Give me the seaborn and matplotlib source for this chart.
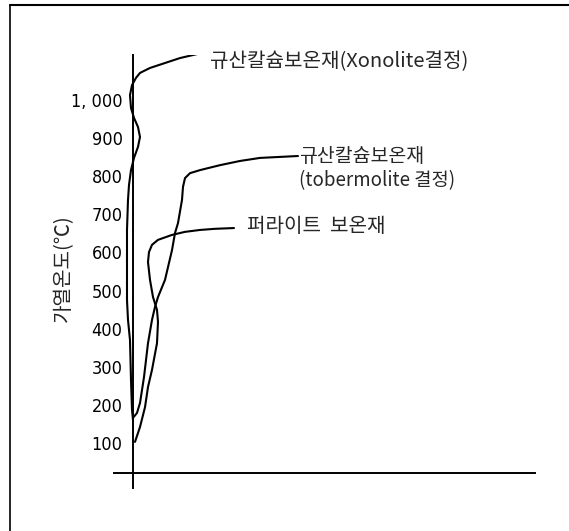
import matplotlib
matplotlib.use("Agg")
import matplotlib.pyplot as plt
import seaborn as sns
import pandas as pd
from matplotlib.lines import Line2D

sns.set_style("white")
plt.rcParams['font.family'] = ['Noto Sans CJK KR', 'DejaVu Sans']

# ---- data (x: arbitrary units, y: heating temperature in C) ----
xonolite_x = [65, 47, 32, 17, 7, 3, -1, -3, -2, 1, 5, 7, 5, 1, -2, -4, -5, -6, -6, -6, -5, -3, -2, -1, 0]
xonolite_y = [1121, 1110, 1097, 1084, 1071, 1058, 1039, 1013, 979, 953, 929, 903, 877, 848, 816, 777, 738, 659, 554, 475, 423, 370, 265, 187, 160]

tober_x = [165, 127, 107, 87, 67, 57, 52, 50, 49, 45, 42, 39, 32, 25, 22, 19, 15, 11, 7, 4, 0]
tober_y = [853, 848, 840, 829, 816, 808, 795, 772, 738, 677, 651, 606, 528, 483, 457, 423, 362, 273, 205, 179, 166]

perlite_x = [101, 82, 67, 52, 39, 25, 19, 16, 15, 17, 20, 24, 25, 24, 19, 15, 12, 7, 2]
perlite_y = [664, 662, 659, 654, 646, 633, 620, 601, 575, 528, 483, 449, 418, 362, 292, 247, 194, 142, 103]

ytick_values = [100, 200, 300, 400, 500, 600, 700, 800, 900, 1000]
ytick_labels = ["100", "200", "300", "400", "500", "600", "700", "800", "900", "1, 000"]

label_xonolite = "규산칼슘보온재(Xonolite결정)"
label_tober_1 = "규산칼슘보온재"
label_tober_2 = "(tobermolite 결정)"
label_perlite = "퍼라이트  보온재"
ylabel_text = "가열온도(℃)"

df = pd.concat([
    pd.DataFrame({"x": xonolite_x, "y": xonolite_y, "s": "xonolite"}),
    pd.DataFrame({"x": tober_x, "y": tober_y, "s": "tobermolite"}),
    pd.DataFrame({"x": perlite_x, "y": perlite_y, "s": "perlite"}),
], ignore_index=True)

fig = plt.figure(figsize=(5.69, 5.31), dpi=100)
ax = fig.add_axes([114/569, 1 - 488/531, 421/569, 433/531])

for name in ["xonolite", "tobermolite", "perlite"]:
    sub = df[df["s"] == name]
    sns.lineplot(data=sub, x="x", y="y", sort=False, estimator=None,
                 color="black", linewidth=1.5, ax=ax, legend=False)

ax.set_xlim(-19, 402)
ax.set_ylim(-18, 1118)

for side in ["top", "right"]:
    ax.spines[side].set_visible(False)
ax.spines["left"].set_position(("data", 0))
ax.spines["bottom"].set_position(("data", 21))
for side in ["left", "bottom"]:
    ax.spines[side].set_linewidth(1.4)
    ax.spines[side].set_color("black")

ax.set_xticks([])
ax.set_yticks(ytick_values)
ax.tick_params(axis="y", direction="out", length=3, width=1.2, pad=4.5, colors="black")
ax.set_yticklabels(ytick_labels, fontfamily="DejaVu Sans", fontstretch="condensed",
                   fontsize=13, color="black")
ax.set_xlabel("")
ax.set_ylabel("")
ax.patch.set_alpha(0)

kfont = ['Noto Sans CJK KR', 'DejaVu Sans']
fig.text(210/569, 1 - 62/531, label_xonolite, fontsize=14.5, va="center", ha="left", family=kfont)
fig.text(299/569, 1 - 157/531, label_tober_1, fontsize=14, va="center", ha="left", family=kfont)
fig.text(299/569, 1 - 181/531, label_tober_2, fontsize=13.5, va="center", ha="left", family=kfont)
fig.text(247/569, 1 - 227/531, label_perlite, fontsize=14.5, va="center", ha="left", family=kfont)
fig.text(63/569, 1 - 268/531, ylabel_text, fontsize=14.5, va="center", ha="center", rotation=90, family=kfont)

# outer frame (top and left edges only)
fig.add_artist(Line2D([10/569, 10/569], [0, 1 - 5/531], transform=fig.transFigure, color="black", lw=1.2))
fig.add_artist(Line2D([10/569, 1], [1 - 5/531, 1 - 5/531], transform=fig.transFigure, color="black", lw=1.5))

fig.savefig("out.png", dpi=100, facecolor="white")
